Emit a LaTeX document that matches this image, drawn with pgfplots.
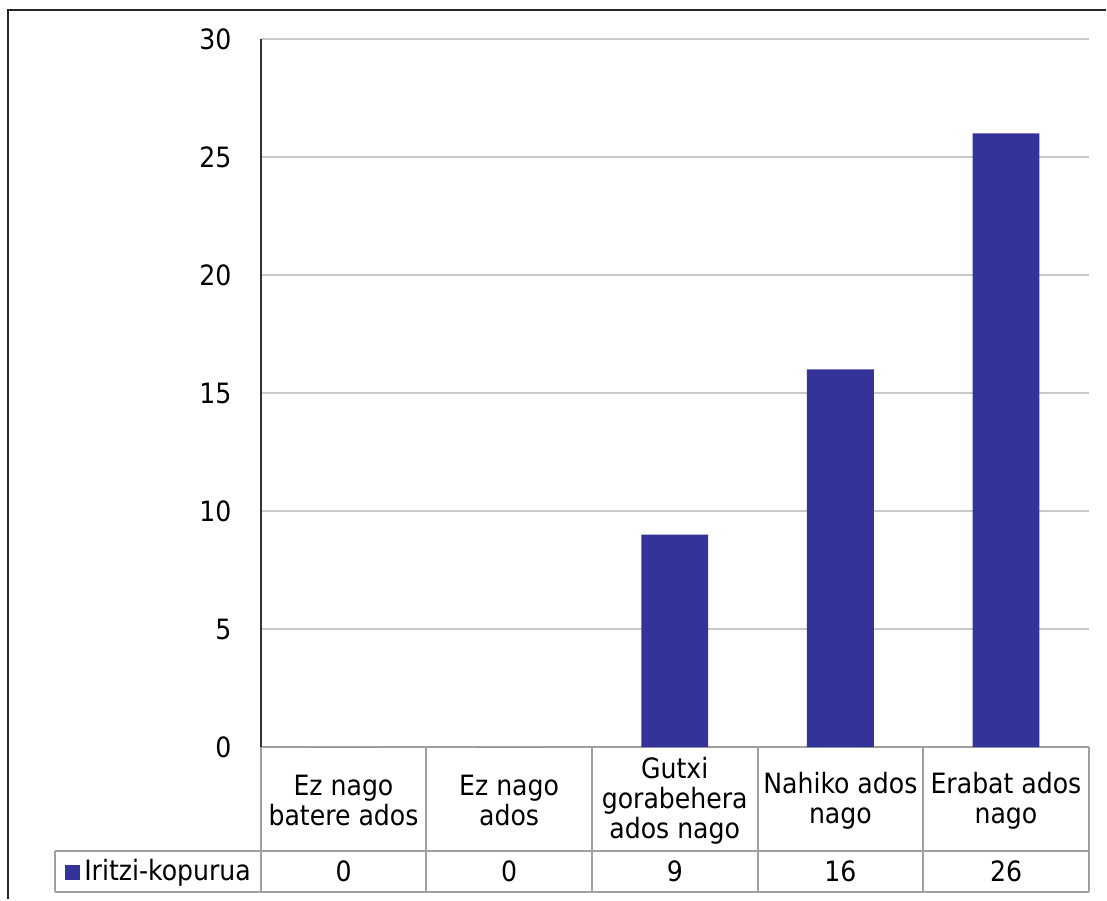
\documentclass[border=0pt]{standalone}
\usepackage{pgfplots}
\pgfplotsset{compat=1.18}
\usepackage{fontspec}
\setmainfont{DejaVu Sans Condensed}
\definecolor{barblue}{HTML}{333399}
\definecolor{gridgray}{HTML}{C8C8C8}
\definecolor{tablegray}{HTML}{A0A0A0}
\begin{document}
\fontsize{14pt}{15pt}\selectfont
\begin{tikzpicture}
\path (-130.5pt,-76pt) rectangle (423pt,374pt);
\begin{axis}[
  at={(0,0)}, anchor=south west,
  scale only axis, width=414.5pt, height=354.5pt,
  xmin=0.5, xmax=5.5, ymin=0, ymax=30,
  ybar, bar width=33.5pt,
  axis x line*=bottom, axis y line*=left,
  x axis line style={draw=tablegray, line width=1pt},
  y axis line style={draw=black!80, line width=1pt},
  ytick={0,5,...,30},
  ymajorgrids, grid style={draw=gridgray, line width=1pt},
  tick style={draw=none},
  yticklabel style={anchor=east, inner sep=0pt, xshift=-14.5pt, font=\fontsize{14pt}{15pt}\selectfont},
  /pgf/number format/assume math mode=true,
  xtick={1,2,3,4,5},
  xticklabels={{Ez nago\\batere ados},{Ez nago\\ados},{Gutxi\\gorabehera\\ados nago},{Nahiko ados\\nago},{Erabat ados\\nago}},
  xticklabel style={anchor=center, align=center, inner sep=0pt, yshift=-22.5pt, font=\fontsize{14pt}{15pt}\selectfont},
  extra x ticks={1,2,3,4,5},
  extra x tick labels={0,0,9,16,26},
  extra x tick style={grid=none, xticklabel style={yshift=-35.5pt}},
  legend style={at={(axis description cs:-0.2364,-0.1765)}, anchor=west, draw=none, fill=none, inner sep=0pt, font=\fontsize{14pt}{15pt}\selectfont},
  legend image code/.code={\fill[#1] (0pt,-3.75pt) rectangle (7.5pt,3.75pt);},
  clip=false,
]
\addplot[fill=barblue, draw=none] coordinates {(1,0) (2,0) (3,9) (4,16) (5,26)};
\addlegendentry{Iritzi-kopurua}
\end{axis}
% data table lines
\draw[tablegray, line width=1pt] (0,-72.5pt) -- (0,0);
\foreach \x in {82.9,165.8,248.7,331.6,414.5} \draw[tablegray, line width=1pt] (\x pt,0) -- (\x pt,-72.5pt);
\draw[tablegray, line width=1pt] (-103pt,-52pt) -- (414.5pt,-52pt);
\draw[tablegray, line width=1pt] (-103pt,-72.5pt) -- (414.5pt,-72.5pt);
\draw[tablegray, line width=1pt] (-103pt,-52pt) -- (-103pt,-72.5pt);
% outer frame
\draw[black!85, line width=1.2pt] (-126.5pt,-76pt) -- (-126.5pt,369pt) -- (423pt,369pt);
\end{tikzpicture}
\end{document}
